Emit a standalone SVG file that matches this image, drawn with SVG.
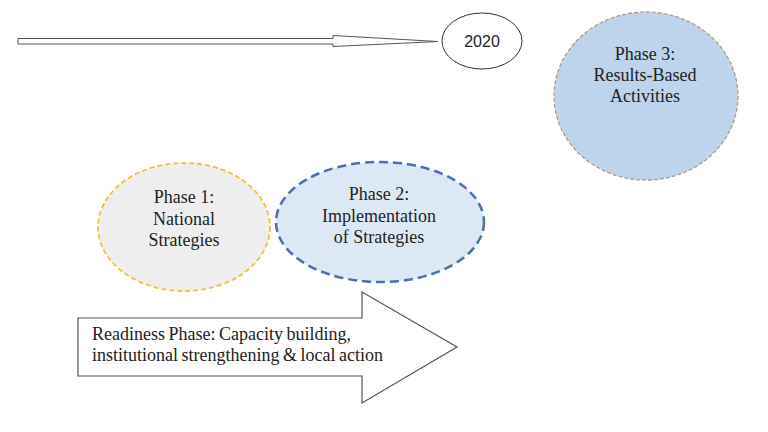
<svg xmlns="http://www.w3.org/2000/svg" width="768" height="432" viewBox="0 0 768 432">
<style>
.t{font-size:18px;fill:#222;text-anchor:middle}
.s{font-size:16px;fill:#222;text-anchor:middle}
</style>
<rect width="768" height="432" fill="#fff"/>
<g id="connectors">
<path d="M18,38.5 H333 V35.5 L438,41.5 L333,46.5 V44 H18 Z" fill="#fff" stroke="#555" stroke-width="1"/>
</g>
<g id="year2020">
<ellipse cx="482" cy="41" rx="40" ry="28" fill="#fff" stroke="#333" stroke-width="1"/>
<text class="s" font-family="Liberation Sans, Arial, sans-serif" x="482" y="47">2020</text>
</g>
<g font-family="Liberation Serif, Times New Roman, serif">
<g id="phase3">
<ellipse cx="646" cy="96" rx="92" ry="84" fill="#bdd4ec" stroke="#b39a88" stroke-width="1.3" stroke-dasharray="4,2"/>
<text class="t" x="645" y="60">Phase 3:</text>
<text class="t" x="645" y="81">Results-Based</text>
<text class="t" x="645" y="102">Activities</text>
</g>
<g id="phase1">
<ellipse cx="184" cy="227" rx="86" ry="64" fill="#eeeeee" stroke="#f2c230" stroke-width="1.8" stroke-dasharray="5,3"/>
<text class="t" x="184" y="203">Phase 1:</text>
<text class="t" x="184" y="225">National</text>
<text class="t" x="184" y="246">Strategies</text>
</g>
<g id="phase2">
<ellipse cx="380" cy="222" rx="104" ry="60" fill="#dde8f5" stroke="#4a70ad" stroke-width="2.5" stroke-dasharray="9,5"/>
<text class="t" x="379" y="200">Phase 2:</text>
<text class="t" x="379" y="222">Implementation</text>
<text class="t" x="379" y="243">of Strategies</text>
</g>
<g id="readiness">
<path d="M78,318 H362 V292 L457,347 L362,403 V376 H78 Z" fill="#fff" stroke="#555" stroke-width="1.2"/>
<text class="t" x="92" y="340" text-anchor="start" word-spacing="-1" style="text-anchor:start">Readiness Phase: Capacity building,</text>
<text class="t" x="92" y="361" text-anchor="start" word-spacing="-1" style="text-anchor:start">institutional strengthening &amp; local action</text>
</g>
</g>
</svg>
